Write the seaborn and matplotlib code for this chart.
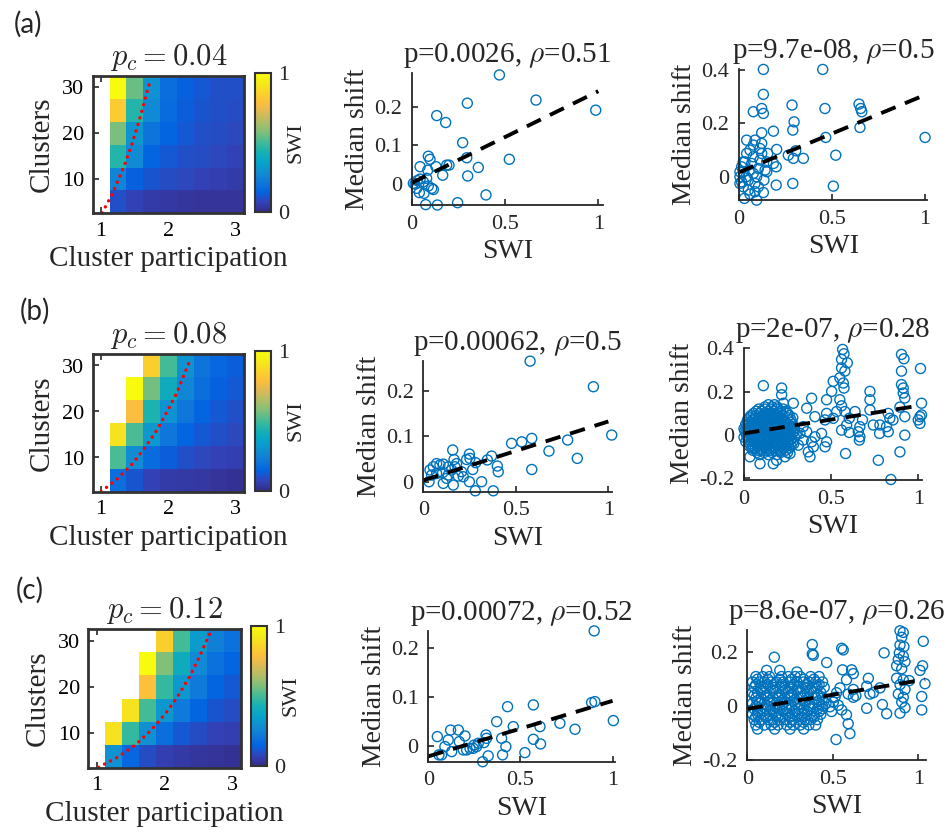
import numpy as np
import pandas as pd
import matplotlib
matplotlib.use("Agg")
import matplotlib.pyplot as plt
from matplotlib.colors import LinearSegmentedColormap
import seaborn as sns

nan = np.nan

# ---- heatmap data (rows: clusters 30 -> 5, cols: participation 1.0 -> 3.0)
clusters = [30, 25, 20, 15, 10, 5]
participation = [1.0, 1.25, 1.5, 1.75, 2.0, 2.25, 2.5, 2.75, 3.0]

swi_a = [
    [nan, 1.00, 0.55, 0.30, 0.18, 0.14, 0.12, 0.10, 0.10],
    [nan, 0.83, 0.45, 0.27, 0.17, 0.13, 0.11, 0.10, 0.09],
    [nan, 0.57, 0.31, 0.20, 0.15, 0.12, 0.10, 0.09, 0.08],
    [nan, 0.45, 0.27, 0.15, 0.12, 0.10, 0.09, 0.08, 0.07],
    [nan, 0.25, 0.14, 0.11, 0.09, 0.08, 0.07, 0.06, 0.05],
    [nan, 0.10, 0.07, 0.05, 0.04, 0.035, 0.03, 0.03, 0.03],
]
swi_b = [
    [nan, nan, nan, 0.84, 0.50, 0.30, 0.20, 0.16, 0.13],
    [nan, nan, 1.00, 0.56, 0.40, 0.26, 0.18, 0.14, 0.12],
    [nan, nan, 0.78, 0.44, 0.30, 0.21, 0.15, 0.12, 0.10],
    [nan, 0.90, 0.51, 0.32, 0.21, 0.15, 0.12, 0.10, 0.08],
    [nan, 0.51, 0.28, 0.17, 0.13, 0.10, 0.08, 0.07, 0.06],
    [nan, 0.18, 0.11, 0.07, 0.05, 0.045, 0.04, 0.03, 0.02],
]
swi_c = [
    [nan, nan, nan, nan, 0.84, 0.50, 0.33, 0.24, 0.19],
    [nan, nan, nan, 1.00, 0.58, 0.40, 0.27, 0.19, 0.15],
    [nan, nan, nan, 0.79, 0.48, 0.32, 0.22, 0.15, 0.12],
    [nan, nan, 0.90, 0.50, 0.32, 0.22, 0.15, 0.11, 0.09],
    [nan, 0.90, 0.48, 0.29, 0.18, 0.12, 0.09, 0.07, 0.06],
    [nan, 0.30, 0.16, 0.09, 0.06, 0.045, 0.035, 0.03, 0.02],
]

# red dotted boundary curves (participation, clusters)
bound_a_x = [1.015, 1.161, 1.224, 1.346, 1.454, 1.546, 1.59, 1.673, 1.717]
bound_a_y = [2.58, 6.58, 8.7, 12.98, 17.4, 21.78, 24.0, 28.47, 30.8]
bound_b_x = [1.0, 1.245, 1.464, 1.66, 1.835, 1.99, 2.13, 2.25, 2.31]
bound_b_y = [2.58, 5.4, 8.6, 12.3, 16.1, 20.2, 24.2, 28.6, 30.7]
bound_c_x = [1.024, 1.31, 1.57, 1.80, 2.01, 2.19, 2.36, 2.50, 2.63, 2.70]
bound_c_y = [2.66, 4.86, 7.5, 10.66, 14.2, 17.9, 22.0, 26.1, 30.4, 32.6]

pc_titles = ["$p_c = 0.04$", "$p_c = 0.08$", "$p_c = 0.12$"]

# ---- scatter data (SWI, median shift)
pts_a_mid = [(0.47, 0.282), (0.666, 0.217), (0.986, 0.191), (0.298, 0.209), (0.134, 0.177),
             (0.182, 0.159), (0.273, 0.107), (0.295, 0.068), (0.523, 0.064), (0.357, 0.043),
             (0.30, 0.021), (0.398, -0.028), (0.246, -0.048), (0.1375, -0.054), (0.075, -0.053),
             (0.089, 0.072), (0.098, 0.064), (0.086, 0.036), (0.045, 0.045), (0.13, 0.045),
             (0.1875, 0.049), (0.20, 0.049), (0.166, 0.023), (0.018, 0.0), (0.03, 0.009),
             (0.045, 0.013), (0.027, -0.011), (0.041, -0.022), (0.066, -0.024), (0.089, -0.005),
             (0.107, -0.011), (0.116, -0.014), (0.08, 0.015), (0.0625, 0.006), (0.009, 0.002)]

pts_a_right = [(0.131, 0.4025), (0.45, 0.4025), (0.131, 0.309), (0.122, 0.256), (0.131, 0.2375),
               (0.077, 0.244), (0.285, 0.269), (0.462, 0.256), (0.645, 0.2725), (0.654, 0.256),
               (0.66, 0.244), (0.65, 0.185), (0.296, 0.206), (0.289, 0.175), (0.185, 0.171),
               (0.122, 0.165), (1.0, 0.1475), (0.466, 0.1475), (0.2025, 0.1025), (0.305, 0.0975),
               (0.52, 0.081), (0.346, 0.069), (0.265, 0.081), (0.292, 0.069), (0.185, 0.05),
               (0.2, 0.0375), (0.149, 0.019), (0.507, -0.035), (0.289, -0.025), (0.2, -0.031),
               (0.131, -0.059), (0.095, -0.0875), (0.029, -0.081), (0.059, -0.065), (0.077, 0.119),
               (0.041, 0.1375), (0.086, 0.1375), (0.113, 0.106), (0.122, 0.125), (0.005, 0.0),
               (0.014, 0.0375), (0.014, -0.019), (0.023, 0.019), (0.032, 0.056), (0.041, 0.0875),
               (0.05, -0.0125), (0.059, 0.025), (0.068, 0.05), (0.077, 0.075), (0.086, -0.025),
               (0.095, 0.0), (0.104, 0.031), (0.113, 0.0625), (0.122, 0.0875), (0.134, -0.0125),
               (0.14, 0.025), (0.023, -0.0375), (0.05, -0.05), (0.086, -0.056), (0.005, 0.019),
               (0.005, -0.025), (0.038, 0.0), (0.077, 0.0125), (0.104, -0.0375), (0.059, 0.1),
               (0.023, 0.056), (0.149, 0.056), (0.154, 0.0875)]

pts_b_mid = [(0.577, 0.266), (0.919, 0.2096), (1.018, 0.103), (0.78, 0.092), (0.586, 0.0956),
             (0.532, 0.088), (0.477, 0.0846), (0.679, 0.0676), (0.832, 0.0515), (0.586, 0.027),
             (0.40, 0.0346), (0.405, 0.022), (0.378, -0.02), (0.281, -0.02), (0.315, 0.0),
             (0.369, 0.0566), (0.346, 0.048), (0.283, 0.042), (0.267, 0.027), (0.249, 0.061),
             (0.252, 0.0515), (0.234, 0.049), (0.249, 0.0), (0.216, 0.011), (0.207, 0.022),
             (0.18, 0.04), (0.171, 0.033), (0.159, 0.07), (0.166, 0.049), (0.162, -0.0074),
             (0.135, 0.0147), (0.126, 0.0074), (0.108, -0.0037), (0.108, 0.039), (0.09, 0.037),
             (0.072, 0.04), (0.054, 0.033), (0.036, 0.026), (0.031, 0.0), (0.045, 0.0147),
             (0.072, 0.018), (0.1045, 0.02), (0.135, 0.033), (0.153, 0.026), (0.189, 0.0125)]

pts_b_right = [
    # dense cloud at low SWI
    (0.12, 0.13), (0.16, 0.13), (0.19, 0.13),
    (0.07, 0.11), (0.10, 0.11), (0.14, 0.11), (0.17, 0.11), (0.21, 0.11), (0.24, 0.11),
    (0.04, 0.09), (0.07, 0.09), (0.11, 0.09), (0.13, 0.09), (0.16, 0.09), (0.19, 0.09), (0.22, 0.09), (0.26, 0.09),
    (0.02, 0.07), (0.05, 0.07), (0.08, 0.07), (0.10, 0.07), (0.12, 0.07), (0.15, 0.07), (0.18, 0.07),
    (0.20, 0.07), (0.23, 0.07), (0.27, 0.07),
    (0.01, 0.05), (0.03, 0.05), (0.06, 0.05), (0.09, 0.05), (0.11, 0.05), (0.14, 0.05), (0.17, 0.05),
    (0.19, 0.05), (0.22, 0.05), (0.25, 0.05), (0.28, 0.05),
    (0.00, 0.03), (0.02, 0.03), (0.05, 0.03), (0.07, 0.03), (0.10, 0.03), (0.13, 0.03), (0.15, 0.03),
    (0.18, 0.03), (0.21, 0.03), (0.24, 0.03), (0.27, 0.03), (0.29, 0.03),
    (0.01, 0.01), (0.03, 0.01), (0.06, 0.01), (0.08, 0.01), (0.11, 0.01), (0.14, 0.01), (0.16, 0.01),
    (0.19, 0.01), (0.22, 0.01), (0.25, 0.01), (0.28, 0.01),
    (0.00, -0.01), (0.02, -0.01), (0.05, -0.01), (0.07, -0.01), (0.10, -0.01), (0.12, -0.01),
    (0.15, -0.01), (0.18, -0.01), (0.20, -0.01), (0.23, -0.01), (0.26, -0.01), (0.29, -0.01),
    (0.01, -0.03), (0.04, -0.03), (0.06, -0.03), (0.09, -0.03), (0.12, -0.03), (0.14, -0.03),
    (0.17, -0.03), (0.19, -0.03), (0.22, -0.03), (0.25, -0.03), (0.28, -0.03),
    (0.03, -0.05), (0.05, -0.05), (0.08, -0.05), (0.11, -0.05), (0.13, -0.05), (0.16, -0.05),
    (0.19, -0.05), (0.21, -0.05), (0.24, -0.05), (0.27, -0.05),
    (0.05, -0.07), (0.08, -0.07), (0.10, -0.07), (0.13, -0.07), (0.15, -0.07), (0.18, -0.07),
    (0.21, -0.07), (0.24, -0.07),
    (0.09, -0.09), (0.14, -0.09), (0.19, -0.09),
    (0.14, 0.14), (0.175, 0.14),
    (0.085, 0.12), (0.12, 0.12), (0.155, 0.12), (0.19, 0.12), (0.225, 0.12),
    (0.055, 0.10), (0.09, 0.10), (0.12, 0.10), (0.145, 0.10), (0.18, 0.10), (0.205, 0.10), (0.25, 0.10),
    (0.03, 0.08), (0.065, 0.08), (0.09, 0.08), (0.115, 0.08), (0.14, 0.08), (0.165, 0.08),
    (0.19, 0.08), (0.215, 0.08), (0.25, 0.08), (0.28, 0.08),
    (0.02, 0.06), (0.045, 0.06), (0.075, 0.06), (0.10, 0.06), (0.125, 0.06), (0.155, 0.06),
    (0.18, 0.06), (0.205, 0.06), (0.235, 0.06), (0.265, 0.06),
    (0.015, 0.04), (0.04, 0.04), (0.065, 0.04), (0.09, 0.04), (0.12, 0.04), (0.145, 0.04),
    (0.17, 0.04), (0.20, 0.04), (0.23, 0.04), (0.26, 0.04), (0.285, 0.04),
    (0.005, 0.02), (0.035, 0.02), (0.06, 0.02), (0.085, 0.02), (0.115, 0.02), (0.14, 0.02),
    (0.165, 0.02), (0.195, 0.02), (0.225, 0.02), (0.255, 0.02), (0.29, 0.02),
    (0.015, 0.0), (0.04, 0.0), (0.065, 0.0), (0.095, 0.0), (0.13, 0.0), (0.165, 0.0),
    (0.195, 0.0), (0.225, 0.0), (0.26, 0.0), (0.30, 0.0),
    (0.025, -0.02), (0.055, -0.02), (0.085, -0.02), (0.115, -0.02), (0.145, -0.02),
    (0.175, -0.02), (0.205, -0.02), (0.24, -0.02), (0.27, -0.02),
    (0.035, -0.04), (0.07, -0.04), (0.10, -0.04), (0.13, -0.04), (0.155, -0.04),
    (0.185, -0.04), (0.215, -0.04), (0.255, -0.04), (0.285, -0.04),
    (0.045, -0.06), (0.065, -0.06), (0.09, -0.06), (0.12, -0.06), (0.145, -0.06),
    (0.175, -0.06), (0.20, -0.06), (0.23, -0.06), (0.26, -0.06),
    (0.075, -0.08), (0.115, -0.08), (0.16, -0.08), (0.21, -0.08), (0.25, -0.08),
    (0.092, -0.132), (0.168, -0.132), (0.034, -0.1), (0.187, -0.116), (0.235, -0.1), (0.264, -0.085),
    # sparser points
    (0.111, 0.228), (0.216, 0.217), (0.216, 0.186), (0.226, 0.147), (0.283, 0.147), (0.388, 0.17),
    (0.36, 0.124), (0.474, 0.163), (0.512, 0.248), (0.503, 0.2016), (0.532, 0.1085), (0.474, 0.1),
    (0.465, 0.07), (0.407, 0.085), (0.566, 0.395), (0.574, 0.375), (0.56, 0.349), (0.593, 0.333),
    (0.56, 0.31), (0.579, 0.295), (0.55, 0.264), (0.57, 0.24), (0.574, 0.217), (0.55, 0.163),
    (0.56, 0.135), (0.579, 0.1085), (0.604, 0.0775), (0.589, 0.0465), (0.604, 0.0124), (0.56, 0.023),
    (0.583, -0.085), (0.512, 0.0775), (0.474, -0.031), (0.407, -0.0078), (0.398, -0.054), (0.379, -0.1),
    (0.369, -0.0775), (0.388, -0.031), (0.34, 0.039), (0.321, 0.0078), (0.36, 0.0155), (0.34, -0.023),
    (0.312, -0.0465), (0.637, 0.1085), (0.68, 0.07), (0.665, 0.039), (0.656, 0.0155), (0.665, -0.0078),
    (0.662, -0.023), (0.723, 0.2016), (0.723, 0.163), (0.723, 0.116), (0.742, 0.0465), (0.771, -0.116),
    (0.778, 0.0078), (0.828, 0.1), (0.818, 0.039), (0.828, 0.0155), (0.78, 0.0465), (0.837, 0.0775),
    (0.843, -0.2047), (0.904, 0.372), (0.918, 0.352), (0.904, 0.295), (0.904, 0.233), (0.914, 0.217),
    (0.914, 0.194), (0.923, 0.171), (0.895, 0.129), (0.923, 0.085), (0.923, 0.0), (0.895, -0.0775),
    (0.855, 0.07), (1.013, 0.307), (1.019, 0.147), (1.01, 0.085), (1.0, 0.07), (1.019, 0.093),
    (1.01, 0.054), (0.465, -0.054), (0.445, 0.0078)]

pts_c_mid = [(0.90, 0.2356), (0.904, 0.0904), (0.886, 0.0884), (1.004, 0.0514), (0.796, 0.0336),
             (0.714, 0.0459), (0.57, 0.0836), (0.606, 0.039), (0.609, 0.0034), (0.57, 0.013),
             (0.524, -0.0144), (0.461, 0.039), (0.43, 0.08), (0.371, 0.0493), (0.398, 0.015),
             (0.421, -0.002), (0.403, -0.019), (0.316, 0.015), (0.313, 0.0219), (0.302, 0.0062),
             (0.295, -0.033), (0.325, -0.021), (0.262, -0.002), (0.244, -0.0055), (0.199, 0.0199),
             (0.208, -0.0089), (0.19, -0.0089), (0.163, 0.032), (0.168, 0.0082), (0.121, 0.032),
             (0.127, -0.0123), (0.108, 0.0116), (0.09, -0.002), (0.072, -0.019), (0.049, 0.0185),
             (0.058, -0.019), (0.248, 0.001), (0.226, -0.0055), (0.271, 0.0048)]

pts_c_right = [
    # dense cloud at low SWI
    (0.05, 0.11), (0.09, 0.11), (0.13, 0.11), (0.20, 0.11), (0.24, 0.11), (0.28, 0.11), (0.31, 0.11),
    (0.37, 0.11), (0.42, 0.11),
    (0.03, 0.09), (0.07, 0.09), (0.10, 0.09), (0.14, 0.09), (0.17, 0.09), (0.21, 0.09), (0.25, 0.09),
    (0.29, 0.09), (0.33, 0.09), (0.36, 0.09), (0.40, 0.09), (0.44, 0.09),
    (0.04, 0.07), (0.08, 0.07), (0.11, 0.07), (0.15, 0.07), (0.19, 0.07), (0.22, 0.07), (0.26, 0.07),
    (0.30, 0.07), (0.34, 0.07), (0.38, 0.07), (0.41, 0.07), (0.45, 0.07),
    (0.03, 0.05), (0.06, 0.05), (0.10, 0.05), (0.13, 0.05), (0.17, 0.05), (0.20, 0.05), (0.24, 0.05),
    (0.27, 0.05), (0.31, 0.05), (0.35, 0.05), (0.39, 0.05), (0.43, 0.05),
    (0.05, 0.03), (0.08, 0.03), (0.12, 0.03), (0.15, 0.03), (0.18, 0.03), (0.22, 0.03), (0.25, 0.03),
    (0.29, 0.03), (0.32, 0.03), (0.36, 0.03), (0.40, 0.03), (0.44, 0.03),
    (0.03, 0.01), (0.07, 0.01), (0.10, 0.01), (0.14, 0.01), (0.17, 0.01), (0.21, 0.01), (0.24, 0.01),
    (0.28, 0.01), (0.31, 0.01), (0.34, 0.01), (0.38, 0.01), (0.42, 0.01), (0.46, 0.01),
    (0.04, -0.01), (0.08, -0.01), (0.11, -0.01), (0.15, -0.01), (0.19, -0.01), (0.23, -0.01),
    (0.26, -0.01), (0.30, -0.01), (0.33, -0.01), (0.37, -0.01), (0.41, -0.01), (0.44, -0.01),
    (0.03, -0.03), (0.06, -0.03), (0.10, -0.03), (0.13, -0.03), (0.17, -0.03), (0.20, -0.03),
    (0.24, -0.03), (0.28, -0.03), (0.32, -0.03), (0.35, -0.03), (0.39, -0.03), (0.43, -0.03),
    (0.04, -0.05), (0.08, -0.05), (0.12, -0.05), (0.15, -0.05), (0.19, -0.05), (0.22, -0.05),
    (0.26, -0.05), (0.30, -0.05), (0.34, -0.05), (0.37, -0.05), (0.41, -0.05),
    (0.05, -0.07), (0.10, -0.07), (0.14, -0.07), (0.18, -0.07), (0.23, -0.07), (0.27, -0.07),
    (0.31, -0.07), (0.36, -0.07), (0.40, -0.07),
    (0.06, -0.085), (0.16, -0.085), (0.25, -0.085), (0.33, -0.085),
    (0.06, 0.10), (0.12, 0.10), (0.19, 0.10), (0.26, 0.10), (0.33, 0.10), (0.39, 0.10),
    (0.05, 0.08), (0.12, 0.08), (0.20, 0.08), (0.27, 0.08), (0.35, 0.08), (0.42, 0.08),
    (0.08, 0.06), (0.15, 0.06), (0.22, 0.06), (0.29, 0.06), (0.37, 0.06),
    (0.04, 0.04), (0.11, 0.04), (0.19, 0.04), (0.26, 0.04), (0.33, 0.04), (0.41, 0.04),
    (0.06, 0.02), (0.13, 0.02), (0.20, 0.02), (0.27, 0.02), (0.34, 0.02), (0.42, 0.02),
    (0.05, 0.00), (0.12, 0.00), (0.19, 0.00), (0.26, 0.00), (0.36, 0.00), (0.44, 0.00),
    (0.06, -0.02), (0.13, -0.02), (0.21, -0.02), (0.28, -0.02), (0.35, -0.02), (0.42, -0.02),
    (0.05, -0.04), (0.11, -0.04), (0.18, -0.04), (0.25, -0.04), (0.32, -0.04), (0.39, -0.04),
    (0.07, -0.06), (0.16, -0.06), (0.25, -0.06), (0.33, -0.06),
    (0.113, 0.133), (0.29, 0.127), (0.19, 0.133), (0.158, 0.182),
    # sparser points
    (0.38, 0.229), (0.38, 0.194), (0.386, 0.189), (0.464, 0.162), (0.552, 0.215), (0.561, 0.209),
    (0.557, 0.135), (0.61, 0.135), (0.62, 0.121), (0.58, 0.098), (0.542, 0.068), (0.522, 0.05),
    (0.513, 0.033), (0.503, 0.015), (0.532, 0.0035), (0.552, -0.014), (0.493, -0.02), (0.483, -0.0024),
    (0.59, 0.045), (0.62, 0.062), (0.635, 0.039), (0.58, -0.032), (0.59, -0.065), (0.60, -0.102),
    (0.519, -0.124), (0.62, 0.033), (0.708, 0.1035), (0.698, 0.074), (0.717, 0.045), (0.698, -0.008),
    (0.776, 0.068), (0.80, 0.198), (0.815, -0.028), (0.79, 0.006), (0.737, 0.05),
    (0.893, 0.28), (0.912, 0.274), (0.903, 0.256), (0.893, 0.227), (0.916, 0.221), (0.889, 0.198),
    (0.912, 0.186), (0.883, 0.174), (0.922, 0.165), (0.873, 0.15), (0.903, 0.139), (0.873, 0.1035),
    (0.912, 0.098), (0.893, 0.08), (0.922, 0.062), (0.883, 0.045), (0.912, 0.033), (0.903, 0.015),
    (0.922, -0.006), (0.893, -0.026), (1.029, 0.241), (1.025, 0.15), (1.01, 0.133), (1.039, 0.0835),
    (1.02, 0.036), (1.02, -0.014), (0.947, 0.095)]

# regression lines: intercept, slope, x end
fit_a_mid = (0.003, 0.237, 1.0)
fit_a_right = (0.017, 0.29, 1.0)
fit_b_mid = (0.003, 0.13, 1.0)
fit_b_right = (0.008, 0.127, 1.0)
fit_c_mid = (-0.022, 0.114, 1.0)
fit_c_right = (-0.01, 0.105, 1.04)

stat_a_mid = "p=0.0026, $\\rho$=0.51"
stat_a_right = "p=9.7e-08, $\\rho$=0.5"
stat_b_mid = "p=0.00062, $\\rho$=0.5"
stat_b_right = "p=2e-07, $\\rho$=0.28"
stat_c_mid = "p=0.00072, $\\rho$=0.52"
stat_c_right = "p=8.6e-07, $\\rho$=0.26"

# ---- style
sns.set_style("ticks")
plt.rcParams['font.family'] = ['Liberation Serif', 'DejaVu Serif']
plt.rcParams['mathtext.fontset'] = 'cm'
plt.rcParams['axes.unicode_minus'] = False

parula_rgb = [
    (0.2081, 0.1663, 0.5292), (0.1959, 0.2645, 0.7279), (0.0117, 0.3875, 0.8820),
    (0.0629, 0.4737, 0.8554), (0.0641, 0.5570, 0.8240), (0.0231, 0.6418, 0.7913),
    (0.0843, 0.6928, 0.7062), (0.2586, 0.7317, 0.5954), (0.4871, 0.7491, 0.4840),
    (0.6834, 0.7435, 0.4044), (0.8507, 0.7299, 0.3360), (0.9938, 0.7455, 0.2403),
    (0.9789, 0.8271, 0.1633), (0.9598, 0.9218, 0.0948), (0.9763, 0.9831, 0.0538)]
parula = LinearSegmentedColormap.from_list("parula", parula_rgb)

W, H = 951, 838
fig = plt.figure(figsize=(W / 100, H / 100), dpi=100)
ink = (0.15, 0.15, 0.15)
blue = "#0072BD"
serif = ['Liberation Serif', 'DejaVu Serif']


def px_axes(left, top, right, bottom):
    return fig.add_axes([left / W, 1 - bottom / H, (right - left) / W, (bottom - top) / H])


def serif_ticks(ax):
    for lbl in ax.get_xticklabels() + ax.get_yticklabels():
        lbl.set_family(serif)


def draw_heatmap(ax, cax, values, bx, by, title):
    df = pd.DataFrame(values, index=clusters, columns=participation)
    sns.heatmap(df, ax=ax, cbar_ax=cax, cmap=parula, vmin=0, vmax=1,
                xticklabels=False, yticklabels=False)
    # data coords -> cell coords
    to_col = lambda v: (np.asarray(v) - 0.875) / 0.25
    to_row = lambda v: (32.5 - np.asarray(v)) / 5.0
    ax.plot(to_col(bx), to_row(by), color="red", lw=2.4,
            linestyle=(0, (0.05, 2.0)), dash_capstyle="round")
    ax.set_xticks(to_col([1, 2, 3]))
    ax.set_xticklabels(["1", "2", "3"])
    ax.set_yticks(to_row([10, 20, 30]))
    ax.set_yticklabels(["10", "20", "30"], rotation=0)
    serif_ticks(ax)
    for s in ax.spines.values():
        s.set_visible(True)
        s.set_linewidth(2.0)
        s.set_color((0.2, 0.2, 0.2))
    ax.tick_params(direction="in", top=True, right=True, length=4, width=1.2,
                   color=ink, labelsize=16, labelcolor="black", pad=6)
    ax.set_xlabel("Cluster participation", fontsize=21)
    ax.set_ylabel("Clusters", fontsize=21, labelpad=5)
    ax.set_title(title, fontsize=22, pad=8)
    cb = ax.collections[0].colorbar
    cb.outline.set_linewidth(1.5)
    cb.outline.set_edgecolor((0.2, 0.2, 0.2))
    cb.set_ticks([0, 1])
    cb.set_ticklabels(["0", "1"])
    cax.tick_params(length=0, labelsize=16, pad=5)
    for lbl in cax.get_yticklabels():
        lbl.set_family(serif)
    cb.set_label("SWI", fontsize=16, labelpad=-2)


def draw_scatter(ax, pts, fit, title, yticks, ylim, xmax):
    x, y = zip(*pts)
    sns.scatterplot(x=list(x), y=list(y), ax=ax, s=52, facecolors="none",
                    edgecolor=blue, linewidth=1.0, marker="o", clip_on=False)
    b0, b1, xe = fit
    xs = np.array([0.0, xe])
    ax.plot(xs, b0 + b1 * xs, color="black", lw=2.8, dashes=(4.0, 2.6))
    ax.set_xlim(0, xmax)
    ax.set_ylim(*ylim)
    ax.set_xticks([0, 0.5, 1])
    ax.set_xticklabels(["0", "0.5", "1"])
    ax.set_yticks(yticks)
    ax.set_yticklabels([f"{t:g}" for t in yticks])
    serif_ticks(ax)
    sns.despine(ax=ax)
    for s in ("left", "bottom"):
        ax.spines[s].set_linewidth(1.3)
        ax.spines[s].set_color(ink)
    ax.tick_params(direction="in", length=4, width=1.2, color=ink,
                   labelsize=16, labelcolor=(0.15, 0.15, 0.15), pad=7)
    ax.set_xlabel("SWI", fontsize=20)
    ax.set_ylabel("Median shift", fontsize=20, labelpad=3)
    ax.set_title(title, fontsize=21, pad=8)


# ---- row (a)
draw_heatmap(px_axes(92.7, 76, 244, 213.3), px_axes(255, 73, 271, 212),
             swi_a, bound_a_x, bound_a_y, pc_titles[0])
draw_scatter(px_axes(411.7, 73, 603, 205), pts_a_mid, fit_a_mid, stat_a_mid,
             [0, 0.1, 0.2], (-0.054, 0.287), 1.025)
draw_scatter(px_axes(739, 69.3, 927.3, 200), pts_a_right, fit_a_right, stat_a_right,
             [0, 0.2, 0.4], (-0.087, 0.403), 1.012)

# ---- row (b)
draw_heatmap(px_axes(92.7, 354, 244, 492), px_axes(255, 351, 271, 491),
             swi_b, bound_b_x, bound_b_y, pc_titles[1])
draw_scatter(px_axes(423.3, 360.7, 611.7, 491.7), pts_b_mid, fit_b_mid, stat_b_mid,
             [0, 0.1, 0.2], (-0.022, 0.267), 1.018)
draw_scatter(px_axes(744, 347.7, 921.7, 480), pts_b_right, fit_b_right, stat_b_right,
             [-0.2, 0, 0.2, 0.4], (-0.207, 0.403), 1.02)

# ---- row (c)
draw_heatmap(px_axes(88.3, 629, 241, 768), px_axes(250.7, 626, 266.7, 766),
             swi_c, bound_c_x, bound_c_y, pc_titles[2])
draw_scatter(px_axes(428.3, 630.7, 615, 761.7), pts_c_mid, fit_c_mid, stat_c_mid,
             [0, 0.1, 0.2], (-0.033, 0.236), 1.013)
draw_scatter(px_axes(747.3, 630, 926, 760), pts_c_right, fit_c_right, stat_c_right,
             [-0.2, 0, 0.2], (-0.195, 0.283), 1.045)

# panel letters
for lab, (px, py) in zip(["(a)", "(b)", "(c)"], [(28, 24), (35, 311), (30, 590)]):
    fig.text(px / W, 1 - py / H, lab, fontsize=20, family=["Lato", "DejaVu Sans"],
             ha="center", va="center")

fig.savefig("out.png", dpi=100)
